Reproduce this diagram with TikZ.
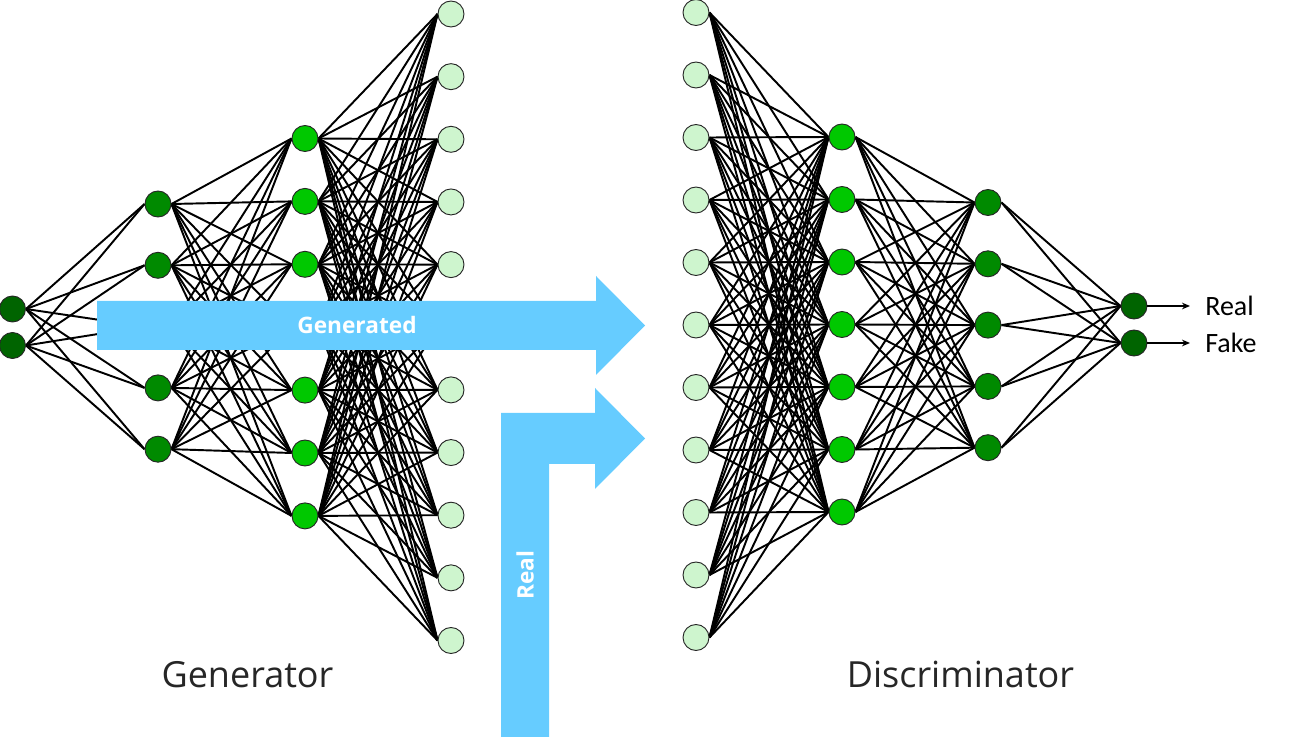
\documentclass[tikz,border=0pt]{standalone}
\usepackage{fontspec}
\setmainfont{Open Sans}
\newfontfamily\calibri{Carlito}
\usetikzlibrary{arrows.meta,backgrounds}
\definecolor{gdark}{RGB}{0,100,0}
\definecolor{gmid}{RGB}{0,138,0}
\definecolor{gbright}{RGB}{0,200,0}
\definecolor{glight}{RGB}{206,245,206}
\definecolor{flow}{RGB}{102,204,255}
\definecolor{txt}{RGB}{38,38,38}
\begin{document}
\begin{tikzpicture}[x=0.75pt,y=-0.75pt,
  neuron/.style={circle,draw=black!85,line width=0.7pt,minimum size=19.5pt,inner sep=0pt},
  link/.style={line width=1.45pt,black},
  outlink/.style={line width=1.3pt,black,-{Stealth[length=6pt,width=5pt]}},
  flowarrow/.style={fill=flow,draw=none},
  title/.style={font=\fontsize{27}{31}\selectfont,text=txt,inner sep=0pt,anchor=base},
  flowlabel/.style={font=\bfseries\fontsize{17}{20}\selectfont,text=white,inner sep=0pt},
  outlabel/.style={font=\calibri\fontsize{21}{25}\selectfont,text=black,inner sep=0pt,anchor=base west}]
\useasboundingbox (0,0) rectangle (1290,737);

% ---------- Generator ----------
\foreach \i in {1,...,2}
  \node[neuron,fill=gdark] (ga\i) at (12.5,{309+36.5*(\i-1)}) {};
\foreach \i in {1,...,5}
  \node[neuron,fill=gmid] (gb\i) at (158,{204+61.3*(\i-1)}) {};
\foreach \i in {1,...,7}
  \node[neuron,fill=gbright] (gc\i) at (305,{138.5+62.9*(\i-1)}) {};
\foreach \i in {1,...,11}
  \node[neuron,fill=glight] (gd\i) at (451,{14+62.65*(\i-1)}) {};

% ---------- Discriminator ----------
\foreach \i in {1,...,11}
  \node[neuron,fill=glight] (da\i) at (696,{12.5+62.5*(\i-1)}) {};
\foreach \i in {1,...,7}
  \node[neuron,fill=gbright] (db\i) at (842,{137+62.5*(\i-1)}) {};
\foreach \i in {1,...,5}
  \node[neuron,fill=gmid] (dc\i) at (988,{202.5+61.3*(\i-1)}) {};
\foreach \i in {1,...,2}
  \node[neuron,fill=gdark] (dd\i) at (1134,{306+37*(\i-1)}) {};

% ---------- connections ----------
\begin{pgfonlayer}{background}
  \foreach \a in {1,...,2}{\foreach \b in {1,...,5}{\draw[link] (ga\a.east) -- (gb\b.west);}}
  \foreach \a in {1,...,5}{\foreach \b in {1,...,7}{\draw[link] (gb\a.east) -- (gc\b.west);}}
  \foreach \a in {1,...,7}{\foreach \b in {1,...,11}{\draw[link] (gc\a.east) -- (gd\b.west);}}
  \foreach \a in {1,...,11}{\foreach \b in {1,...,7}{\draw[link] (da\a.east) -- (db\b.west);}}
  \foreach \a in {1,...,7}{\foreach \b in {1,...,5}{\draw[link] (db\a.east) -- (dc\b.west);}}
  \foreach \a in {1,...,5}{\foreach \b in {1,...,2}{\draw[link] (dc\a.east) -- (dd\b.west);}}
\end{pgfonlayer}

% ---------- outputs ----------
\coordinate (oreal) at (1190,306);
\coordinate (ofake) at (1190,343);
\draw[outlink] (dd1.east) -- (oreal);
\draw[outlink] (dd2.east) -- (ofake);
\node[outlabel] (lreal) at (1205,316) {Real};
\node[outlabel] (lfake) at (1205,353) {Fake};

% ---------- flow arrows ----------
\fill[flowarrow] (97,301) -- (596,301) -- (596,276) -- (645,325.5) -- (596,375) -- (596,350) -- (97,350) -- cycle;
\fill[flowarrow] (501,737) -- (501,413) -- (595,413) -- (595,388) -- (645,438.5) -- (595,489) -- (595,464) -- (549,464) -- (549,737) -- cycle;
\node[flowlabel] (lgen) at (357,325) {Generated};
\node[flowlabel,rotate=90] (lrealin) at (525,575) {Real};

% ---------- titles ----------
\node[title] (tgen) at (247.5,688) {Generator};
\node[title] (tdis) at (960.5,688) {Discriminator};
\end{tikzpicture}
\end{document}
